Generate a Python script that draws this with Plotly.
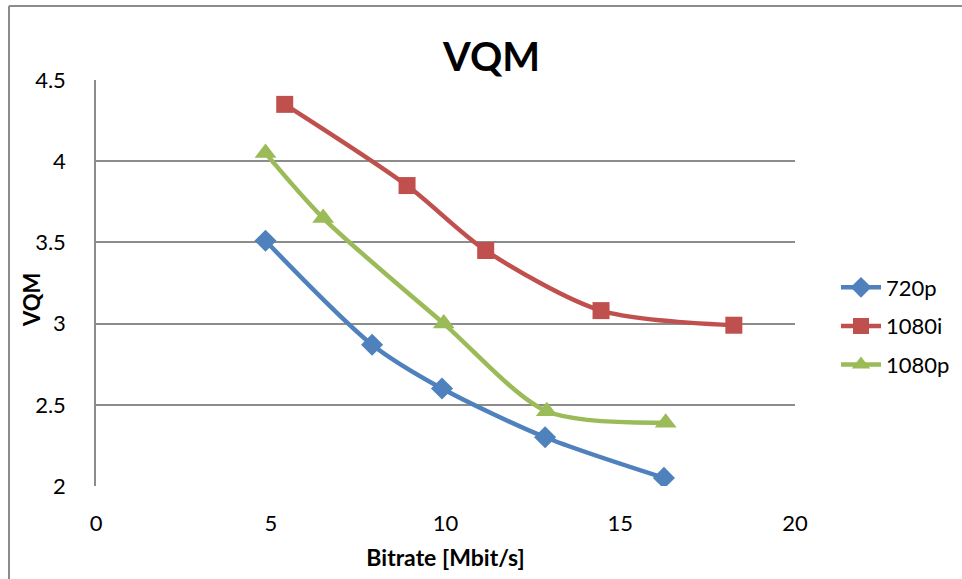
import plotly.graph_objects as go

# Bitrate [Mbit/s] vs VQM score for each video format
bitrate_720p = [4.85, 7.9, 9.9, 12.85, 16.25]
vqm_720p = [3.51, 2.87, 2.60, 2.30, 2.05]

bitrate_1080i = [5.4, 8.9, 11.15, 14.45, 18.25]
vqm_1080i = [4.35, 3.85, 3.45, 3.08, 2.99]

bitrate_1080p = [4.85, 6.5, 9.95, 12.9, 16.3]
vqm_1080p = [4.05, 3.65, 3.00, 2.46, 2.39]

x_ticks = [0, 5, 10, 15, 20]
y_ticks = [2, 2.5, 3, 3.5, 4, 4.5]
y_tick_text = ["2", "2.5", "3", "3.5", "4", "4.5"]

FONT = "Lato"

series = [
    ("720p", bitrate_720p, vqm_720p, "#4F81BD", "diamond", 17),
    ("1080i", bitrate_1080i, vqm_1080i, "#C0504D", "square", 17),
    ("1080p", bitrate_1080p, vqm_1080p, "#9BBB59", "triangle-up", 19),
]

fig = go.Figure()
for name, xs, ys, color, symbol, size in series:
    fig.add_trace(go.Scatter(
        x=xs, y=ys, name=name, mode="lines+markers", legendgroup=name,
        line=dict(color=color, width=4.5, shape="spline", smoothing=0.8),
        marker=dict(symbol=symbol, size=size, color=color),
    ))

px_l, px_r, px_t, px_b = 96, 795, 80, 486

def to_paper_x(p):
    return (p - px_l) / (px_r - px_l)
def to_paper_y(p):
    return (px_b - p) / (px_b - px_t)

fig.update_layout(
    width=962, height=579,
    margin=dict(l=px_l, r=962 - px_r, t=px_t, b=579 - px_b, autoexpand=False),
    paper_bgcolor="white", plot_bgcolor="white",
    font=dict(family=FONT, color="black"),
    title=dict(text="<b>VQM</b>", font=dict(size=40, family=FONT),
               x=0.511, xref="container", xanchor="center",
               y=1 - 57 / 579, yref="container", yanchor="middle"),
    showlegend=True,
    legend=dict(x=to_paper_x(836), y=to_paper_y(326), xanchor="left", yanchor="middle",
                font=dict(size=22, family=FONT), tracegroupgap=7,
                itemwidth=40, bgcolor="rgba(0,0,0,0)"),
)

fig.update_xaxes(
    range=[0, 20], tickvals=x_ticks, ticktext=[str(v) for v in x_ticks],
    showgrid=False, zeroline=False, showline=False,
    ticks="", tickfont=dict(size=22, family=FONT), ticklabelstandoff=22,
    title=dict(text="<b>Bitrate [Mbit/s]</b>", font=dict(size=23, family=FONT), standoff=14),
)
fig.update_yaxes(
    range=[2, 4.5], tickvals=y_ticks, ticktext=y_tick_text,
    showgrid=True, gridcolor="#8C8C8C", gridwidth=1.5,
    zeroline=False, showline=True, linecolor="#8C8C8C", linewidth=1.5,
    ticks="", tickfont=dict(size=22, family=FONT), ticklabelstandoff=24,
)

# Y axis title placed beside the tick labels
fig.add_annotation(text="<b>VQM</b>", textangle=-90, showarrow=False,
                   xref="paper", yref="paper", x=to_paper_x(31), y=to_paper_y(300),
                   xanchor="center", yanchor="middle",
                   font=dict(size=22, family=FONT, color="black"))

# Outer chart frame: left and top edges only
fig.add_shape(type="line", xref="paper", yref="paper",
              x0=to_paper_x(9), x1=to_paper_x(9), y0=to_paper_y(6), y1=to_paper_y(600),
              line=dict(color="#8C8C8C", width=2))
fig.add_shape(type="line", xref="paper", yref="paper",
              x0=to_paper_x(9), x1=to_paper_x(970), y0=to_paper_y(6), y1=to_paper_y(6),
              line=dict(color="#8C8C8C", width=2))

fig.write_html("out.html")
